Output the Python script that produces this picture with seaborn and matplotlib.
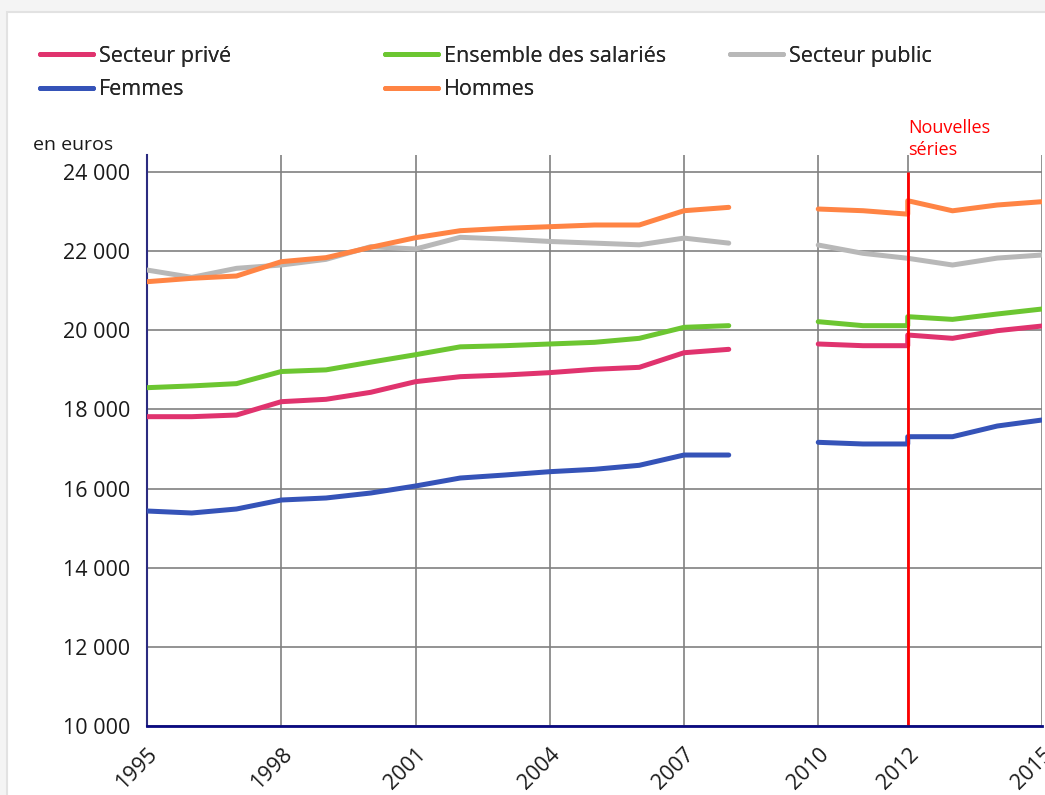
import matplotlib
matplotlib.use("Agg")
import matplotlib.pyplot as plt
import matplotlib.patches as mpatches
import seaborn as sns
import pandas as pd
import numpy as np

# salaire annuel net moyen, en euros ; 2012 apparait deux fois (ancienne / nouvelle serie)
annees = [1995, 1996, 1997, 1998, 1999, 2000, 2001, 2002, 2003, 2004, 2005, 2006, 2007, 2008,
          2010, 2011, 2012, 2012, 2013, 2014, 2015]
segments = ["a"] * 14 + ["b"] * 7

prive = [17817, 17817, 17859, 18196, 18256, 18433, 18702, 18828, 18870, 18930, 19014, 19064, 19433, 19519,
         19654, 19611, 19611, 19881, 19797, 19990, 20108]
ensemble = [18550, 18594, 18652, 18958, 19000, 19195, 19383, 19582, 19611, 19654, 19696, 19797, 20075, 20117,
            20218, 20117, 20117, 20344, 20276, 20412, 20538]
public = [21523, 21338, 21566, 21650, 21793, 22113, 22054, 22350, 22305, 22245, 22203, 22160, 22330, 22203,
          22155, 21945, 21820, None, 21650, 21825, 21903]
femmes = [15433, 15383, 15484, 15711, 15762, 15888, 16065, 16267, 16343, 16427, 16487, 16588, 16848, 16848,
          17169, 17127, 17127, 17311, 17311, 17581, 17733]
hommes = [21228, 21314, 21372, 21734, 21836, 22097, 22340, 22517, 22577, 22618, 22661, 22661, 23022, 23107,
          23065, 23022, 22935, 23275, 23020, 23166, 23250]

series = {
    "Secteur privé": prive,
    "Ensemble des salariés": ensemble,
    "Secteur public": public,
    "Femmes": femmes,
    "Hommes": hommes,
}
couleurs = {
    "Secteur privé": "#e0336e",
    "Ensemble des salariés": "#6cc631",
    "Secteur public": "#b8b8b8",
    "Femmes": "#3553b8",
    "Hommes": "#ff8444",
}

frames = []
for nom, vals in series.items():
    frames.append(pd.DataFrame({"annee": annees, "salaire": vals, "serie": nom, "segment": segments}))
df = pd.concat(frames).dropna()

sns.set_style("white")
plt.rcParams["font.family"] = ["Open Sans", "DejaVu Sans"]

fig = plt.figure(figsize=(10.45, 7.95), dpi=100)
fig.patch.set_facecolor("#f4f4f4")
fig.patches.append(mpatches.Rectangle((7 / 1045, -0.05), 1.2, 1 - 12 / 795 + 0.05,
                                      transform=fig.transFigure, facecolor="white",
                                      edgecolor="#e2e2e2", linewidth=1.5, zorder=-5))

ax = fig.add_axes([147 / 1045, 69 / 795, 895 / 1045, 571 / 795])
ax.set_facecolor("none")

sns.lineplot(data=df, x="annee", y="salaire", hue="serie", units="segment", estimator=None,
             sort=False, palette=couleurs, linewidth=3.6, ax=ax, legend=True, zorder=3)

handles, labels = ax.get_legend_handles_labels()
ax.get_legend().remove()
h = dict(zip(labels, handles))

ax.vlines(2012, 10000, 24000, color="red", linewidth=2, zorder=4)

ax.set_xlim(1995, 2015)
ax.set_ylim(10000, 24430)
ax.set_xticks([1995, 1998, 2001, 2004, 2007, 2010, 2012, 2015])
ax.set_yticks(np.arange(10000, 24001, 2000))
ax.set_yticklabels([f"{v:,}".replace(",", " ") for v in range(10000, 24001, 2000)])
ax.tick_params(axis="both", which="major", labelsize=15.5, color="#808080", width=1.2,
               length=8, direction="out", labelcolor="#1a1a1a")
ax.tick_params(axis="x", length=10, pad=3)
ax.tick_params(axis="y", pad=4)
for lab in ax.get_xticklabels():
    lab.set_rotation(45)
    lab.set_ha("right")
    lab.set_rotation_mode("anchor")
ax.grid(True, color="#808080", linewidth=1.2)
ax.set_axisbelow(True)
ax.set_xlabel("")
ax.set_ylabel("")

for s in ["top", "right"]:
    ax.spines[s].set_visible(False)
ax.spines["left"].set_color("#2b2b80")
ax.spines["left"].set_linewidth(1.5)
ax.spines["bottom"].set_color("#0a0a80")
ax.spines["bottom"].set_linewidth(2)
ax.spines["bottom"].set_zorder(5)

fig.text(33 / 1045, 1 - 150 / 795, "en euros", fontsize=14, va="baseline", ha="left", color="#1a1a1a")
fig.text(908 / 1045, 1 - 119 / 795, "Nouvelles\nséries", fontsize=13, va="top", ha="left",
         color="red", linespacing=1.3)

colonnes = [(40, ["Secteur privé", "Femmes"]),
            (385, ["Ensemble des salariés", "Hommes"]),
            (730, ["Secteur public"])]
for x0, noms in colonnes:
    leg = fig.legend([h[n] for n in noms], noms, loc="upper left",
                     bbox_to_anchor=(x0 / 1045, 1 - 46 / 795), frameon=False, fontsize=15.5,
                     borderpad=0, borderaxespad=0, handlelength=2.45, handletextpad=0.3,
                     labelspacing=0.57)
    for line in leg.get_lines():
        line.set_linewidth(3.6)
    fig.add_artist(leg)

fig.savefig("out.png", dpi=100, facecolor=fig.get_facecolor())
